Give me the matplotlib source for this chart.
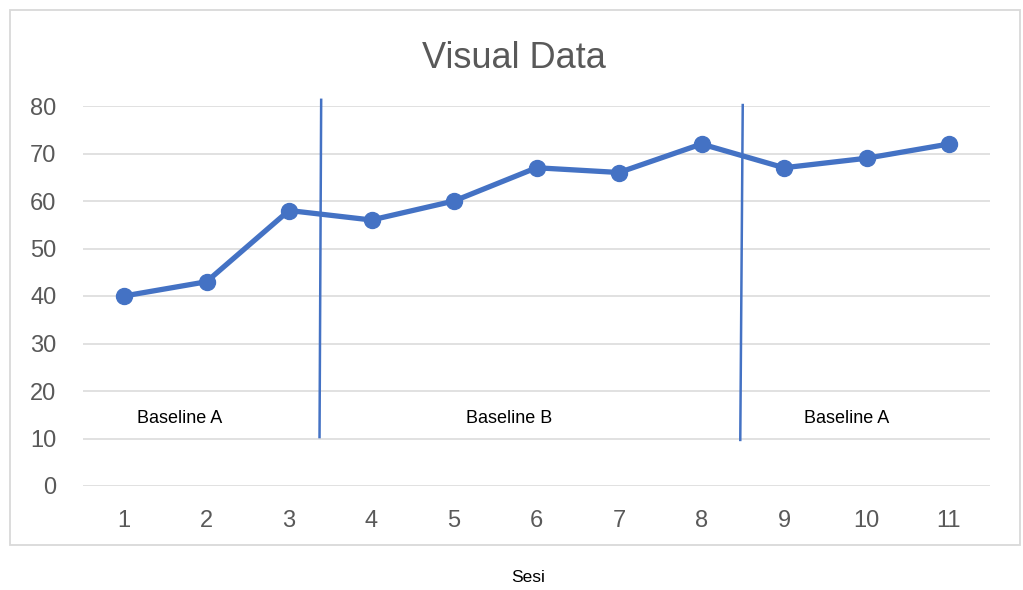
import matplotlib
matplotlib.use("Agg")
import matplotlib.pyplot as plt
from matplotlib.patches import Rectangle

plt.rcParams['font.family'] = ['Liberation Sans', 'DejaVu Sans']

sessions = [1, 2, 3, 4, 5, 6, 7, 8, 9, 10, 11]
scores = [40, 43, 58, 56, 60, 67, 66, 72, 67, 69, 72]
y_ticks = [0, 10, 20, 30, 40, 50, 60, 70, 80]
phase_labels = ["Baseline A", "Baseline B", "Baseline A"]
phase_label_x = [1.67, 5.67, 9.76]
phase_label_y = 14.3
divider_x_top = [3.39, 8.5]
divider_x_bottom = [3.37, 8.47]
divider_y_top = [81.3, 80.2]
divider_y_bottom = [10.3, 9.7]

blue = "#4472c4"
grey_text = "#595959"
grid_col = "#d9d9d9"

fig = plt.figure(figsize=(10.23, 5.9), dpi=100)
ax = fig.add_axes([82.75 / 1023, 1 - 486 / 590, (990.25 - 82.75) / 1023, 380 / 590])

# outer chart border
fig.patches.append(Rectangle((10 / 1023, 45 / 590), 1010 / 1023, 535 / 590,
                             transform=fig.transFigure, fill=False,
                             edgecolor=grid_col, linewidth=1.3, zorder=0))

ax.set_xlim(0.5, 11.5)
ax.set_ylim(0, 80)
ax.set_yticks(y_ticks)
ax.set_xticks(sessions)
ax.yaxis.grid(True, color=grid_col, linewidth=1.1)
ax.set_axisbelow(True)
for s in ax.spines.values():
    s.set_visible(False)
ax.tick_params(axis='both', length=0, labelsize=17, labelcolor=grey_text)
ax.tick_params(axis='y', pad=19)
ax.tick_params(axis='x', pad=17)

ax.plot(sessions, scores, color=blue, linewidth=3.8, marker='o',
        markersize=11.5, markerfacecolor=blue, markeredgecolor=blue,
        solid_capstyle='round', zorder=3, clip_on=False)

for xt, xb, yt, yb in zip(divider_x_top, divider_x_bottom, divider_y_top, divider_y_bottom):
    ax.plot([xt, xb], [yt, yb], color=blue, linewidth=1.8, zorder=4, clip_on=False)

for lab, lx in zip(phase_labels, phase_label_x):
    ax.text(lx, phase_label_y, lab, ha='center', va='center', fontsize=13, color='black')

fig.text(514 / 1023, 1 - 58 / 590, "Visual Data", ha='center', va='center',
         fontsize=26, color=grey_text)
fig.text(528 / 1023, 1 - 577 / 590, "Sesi", ha='center', va='center',
         fontsize=12.5, color='black')

fig.savefig("out.png", dpi=100, facecolor='white')
